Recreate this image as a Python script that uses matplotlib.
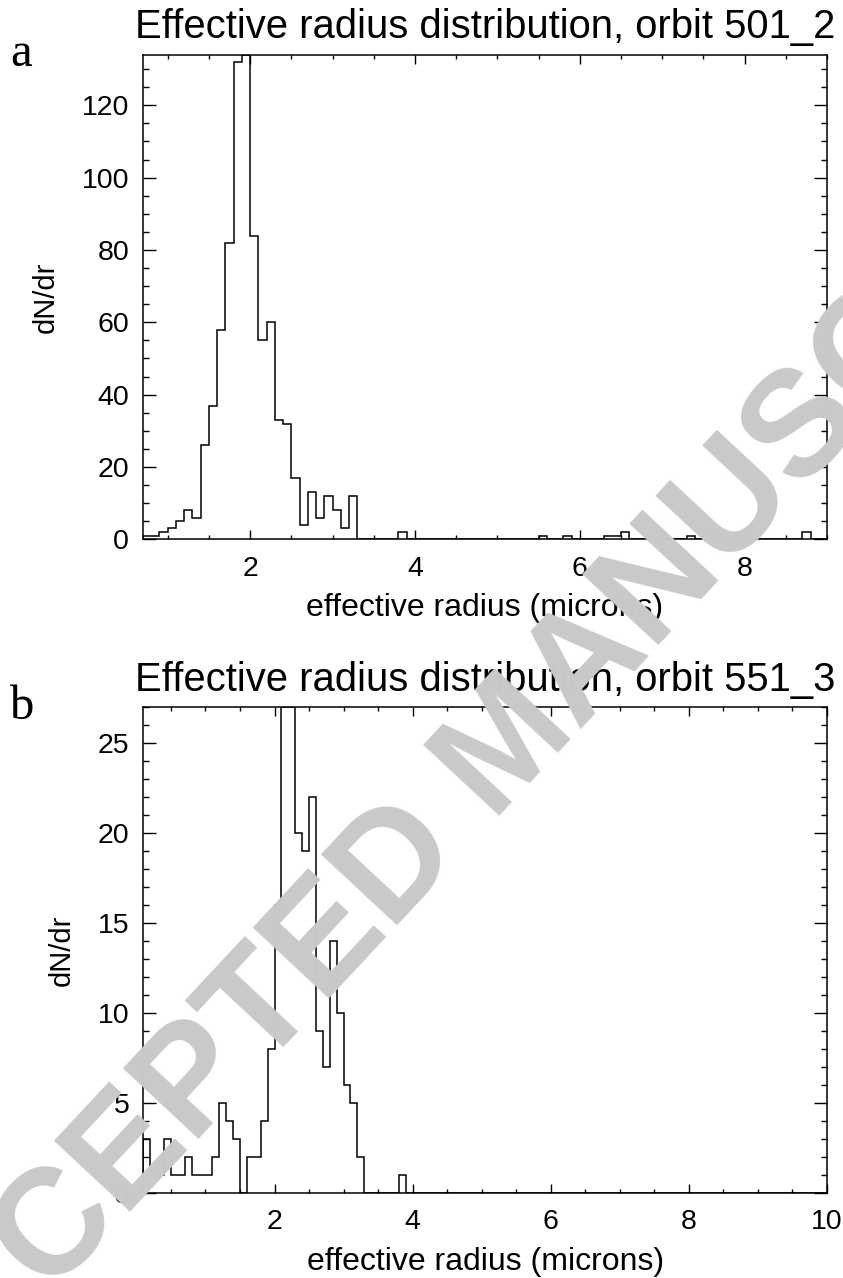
import matplotlib
matplotlib.use("Agg")
import matplotlib.pyplot as plt
from matplotlib.ticker import MultipleLocator
import numpy as np

# bin width of both histograms (microns)
bin_width = 0.1

# panel a: orbit 501_2
a_title = "Effective radius distribution, orbit 501_2"
a_xrange = [0.7, 9.0]
a_counts = [1, 1, 2, 3, 5, 8, 6, 26, 37, 58, 82, 132, 134, 84, 55, 60,
            33, 32, 17, 4, 13, 6, 12, 8, 3, 12]          # bins from 0.7 up to 3.3
a_tail_r = [3.8, 5.5, 5.8, 6.3, 6.4, 6.5, 7.3, 7.6, 7.9, 8.7]
a_tail_n = [2, 1, 1, 1, 1, 2, 1, 1, 1, 2]

# panel b: orbit 551_3
b_title = "Effective radius distribution, orbit 551_3"
b_xrange = [0.1, 10.0]
b_counts = [3, 1, 1, 3, 1, 1, 2, 1, 1, 1, 2, 5, 4, 3, 0, 2, 2, 4, 8, 16,
            27, 27, 20, 19, 22, 9, 7, 14, 10, 6, 5, 2]   # bins from 0.1 up to 3.3
b_tail_r = [3.8]
b_tail_n = [1]


def build_hist(xrange, counts, tail_r, tail_n):
    nbins = int(round((xrange[1] - xrange[0]) / bin_width))
    edges = xrange[0] + bin_width * np.arange(nbins + 1)
    vals = np.zeros(nbins)
    vals[:len(counts)] = counts
    for r, n in zip(tail_r, tail_n):
        vals[int(round((r - xrange[0]) / bin_width))] = n
    return edges, vals


def style_axes(ax, xmajor, ymajor, yminor):
    ax.xaxis.set_major_locator(MultipleLocator(xmajor))
    ax.xaxis.set_minor_locator(MultipleLocator(0.5))
    ax.yaxis.set_major_locator(MultipleLocator(ymajor))
    ax.yaxis.set_minor_locator(MultipleLocator(yminor))
    ax.tick_params(which='both', direction='in', top=True, right=True,
                   labelsize=20.5, width=1.0, color='black')
    ax.tick_params(axis='x', which='major', length=6.5, pad=12)
    ax.tick_params(axis='x', which='minor', length=3.2)
    ax.tick_params(axis='y', which='major', length=9.4, pad=10)
    ax.tick_params(axis='y', which='minor', length=4.3)
    for s in ax.spines.values():
        s.set_linewidth(1.1)
    ax.set_facecolor('none')


plt.rcParams['font.family'] = ['Liberation Sans', 'DejaVu Sans']

fig = plt.figure(figsize=(8.43, 12.78), dpi=100)

# watermark behind the plots
fig.text(0.605, 0.4155, "ACCEPTED MANUSCRIPT", rotation=47, rotation_mode='anchor',
         ha='center', va='center', fontsize=108, fontweight='bold',
         color='#c9c9c9', zorder=0)

ax1 = fig.add_axes([0.1696, 0.578, 0.8114, 0.3792])
ax2 = fig.add_axes([0.1700, 0.0667, 0.8110, 0.3798])

panels = [
    (ax1, a_title, a_xrange, a_counts, a_tail_r, a_tail_n, 134, 20, 5, "a", 0.9484),
    (ax2, b_title, b_xrange, b_counts, b_tail_r, b_tail_n, 27, 5, 1, "b", 0.4374),
]

for ax, title, xr, counts, tr, tn, ytop, ymaj, ymin, letter, ly in panels:
    edges, vals = build_hist(xr, counts, tr, tn)
    ax.stairs(vals, edges, color='black', linewidth=1.1)
    ax.set_xlim(xr)
    ax.set_ylim(0, ytop)
    style_axes(ax, 2, ymaj, ymin)
    ax.set_title(title, fontsize=28.8, pad=12)
    ax.set_xlabel("effective radius (microns)", fontsize=23, labelpad=8)
    ax.set_ylabel("dN/dr", fontsize=21, labelpad=16)
    fig.text(0.012, ly, letter, fontsize=35, family=['Liberation Serif', 'DejaVu Serif'])

fig.savefig("out.png", dpi=100)
